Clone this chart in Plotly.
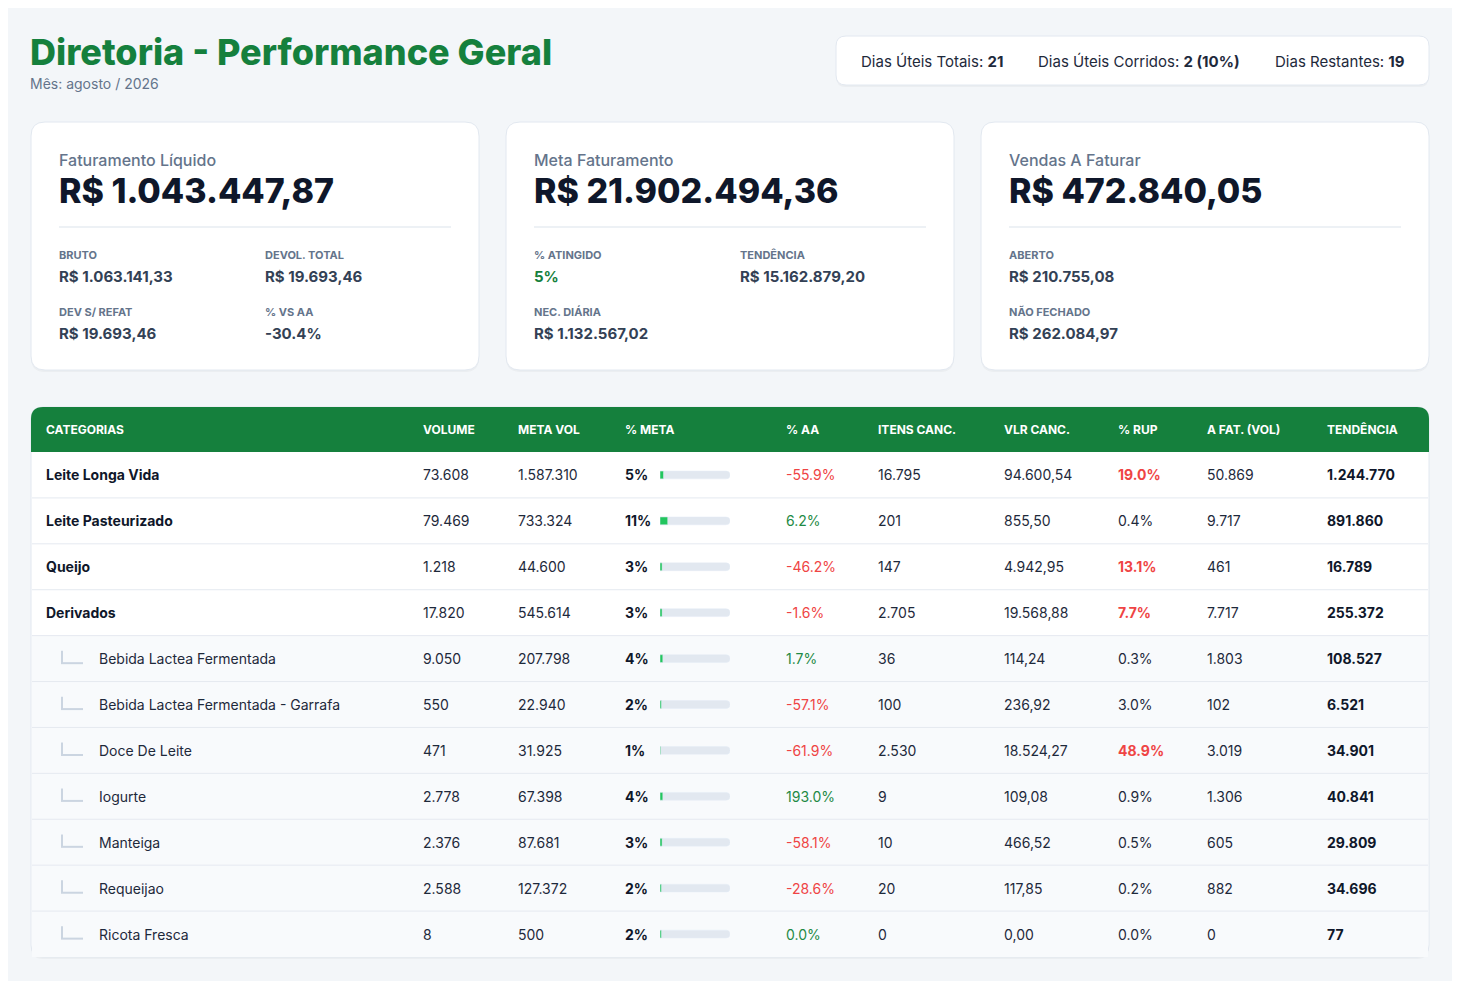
import plotly.graph_objects as go

# página de referência 1460x989; o body do html tem margem de 8px
W, H = 1460, 989
OFF = 8
FW, FH = W - 2 * OFF, H - 2 * OFF
BG = "#f3f6f9"
GREEN = "#15803d"
BAR_GREEN = "#22c55e"
RED = "#ef4444"
POS = "#1f8a45"
DARK = "#0f172a"
TEXT = "#1e293b"
MUTED = "#64748b"
BORDER = "#e2e8f0"
FONT = "Inter, 'Noto Sans', sans-serif"

# ---- cabeçalho ----
titulo = "Diretoria - Performance Geral"
subtitulo = "Mês: agosto / 2026"
dias_labels = ["Dias Úteis Totais:", "Dias Úteis Corridos:", "Dias Restantes:"]
dias_valores = ["21", "2 (10%)", "19"]

# ---- cards KPI ----
card_titulos = ["Faturamento Líquido", "Meta Faturamento", "Vendas A Faturar"]
card_valores = ["R$ 1.043.447,87", "R$ 21.902.494,36", "R$ 472.840,05"]
card1_labels = ["BRUTO", "DEVOL. TOTAL", "DEV S/ REFAT", "% VS AA"]
card1_valores = ["R$ 1.063.141,33", "R$ 19.693,46", "R$ 19.693,46", "-30.4%"]
card2_labels = ["% ATINGIDO", "TENDÊNCIA", "NEC. DIÁRIA"]
card2_valores = ["5%", "R$ 15.162.879,20", "R$ 1.132.567,02"]
card3_labels = ["ABERTO", "NÃO FECHADO"]
card3_valores = ["R$ 210.755,08", "R$ 262.084,97"]

# ---- tabela ----
colunas = ["CATEGORIAS", "VOLUME", "META VOL", "% META", "% AA",
           "ITENS CANC.", "VLR CANC.", "% RUP", "A FAT. (VOL)", "TENDÊNCIA"]
categorias = ["Leite Longa Vida", "Leite Pasteurizado", "Queijo", "Derivados",
              "Bebida Lactea Fermentada", "Bebida Lactea Fermentada - Garrafa",
              "Doce De Leite", "Iogurte", "Manteiga", "Requeijao", "Ricota Fresca"]
subcategoria = [False, False, False, False, True, True, True, True, True, True, True]
volume = [73608, 79469, 1218, 17820, 9050, 550, 471, 2778, 2376, 2588, 8]
meta_vol = [1587310, 733324, 44600, 545614, 207798, 22940, 31925, 67398, 87681, 127372, 500]
pct_meta = [5, 11, 3, 3, 4, 2, 1, 4, 3, 2, 2]
pct_aa = [-55.9, 6.2, -46.2, -1.6, 1.7, -57.1, -61.9, 193.0, -58.1, -28.6, 0.0]
itens_canc = [16795, 201, 147, 2705, 36, 100, 2530, 9, 10, 20, 0]
vlr_canc = [94600.54, 855.50, 4942.95, 19568.88, 114.24, 236.92, 18524.27,
            109.08, 466.52, 117.85, 0.00]
pct_rup = [19.0, 0.4, 13.1, 7.7, 0.3, 3.0, 48.9, 0.9, 0.5, 0.2, 0.0]
a_fat = [50869, 9717, 461, 7717, 1803, 102, 3019, 1306, 605, 882, 0]
tendencia = [1244770, 891860, 16789, 255372, 108527, 6521, 34901, 40841, 29809, 34696, 77]


def fmt_int(v):
    return f"{v:,}".replace(",", ".")


def fmt_dec(v):
    return f"{v:,.2f}".replace(",", "X").replace(".", ",").replace("X", ".")


def fmt_pct(v):
    return f"{v:.1f}%"


def rounded_path(x0, y0, x1, y1, r, top_only=False):
    rb = 0 if top_only else r
    return (f"M {x0 + r},{y0} L {x1 - r},{y0} Q {x1},{y0} {x1},{y0 + r} "
            f"L {x1},{y1 - rb} Q {x1},{y1} {x1 - rb},{y1} L {x0 + rb},{y1} "
            f"Q {x0},{y1} {x0},{y1 - rb} L {x0},{y0 + r} Q {x0},{y0} {x0 + r},{y0} Z")


def ydom(top, bottom, shift=0):
    return [(H - OFF - bottom - shift) / FH, (H - OFF - top - shift) / FH]


shapes = []
annotations = []


def card(x0, y0, x1, y1, r):
    shapes.append(dict(type="path", xref="x", yref="y", layer="below",
                       path=rounded_path(x0, y0 + 2, x1, y1 + 2, r),
                       fillcolor="rgba(15,23,42,0.035)", line=dict(width=0)))
    shapes.append(dict(type="path", xref="x", yref="y", layer="below",
                       path=rounded_path(x0, y0, x1, y1, r),
                       fillcolor="white", line=dict(color=BORDER, width=1)))


def text(x, y, s, size, color, weight=400, anchor="left"):
    # a anotação acrescenta ~2px de padding à esquerda
    annotations.append(dict(x=x - 2, y=y, xref="x", yref="y", text=s, showarrow=False,
                            xanchor=anchor, yanchor="middle",
                            font=dict(family=FONT, size=size, color=color, weight=weight)))


# cabeçalho
text(30, 52, titulo, 36, GREEN, 800)
text(30, 83, subtitulo, 14, MUTED)
card(836, 36, 1429, 85, 10)
for x, lab, val in zip([861, 1038, 1275], dias_labels, dias_valores):
    text(x, 61, f"{lab} <b>{val}</b>", 15, TEXT)

# cards
card_x = [31, 506, 981]
grids = [(card1_labels, card1_valores, 2), (card2_labels, card2_valores, 2),
         (card3_labels, card3_valores, 1)]
for cx, tit, val, (labs, vals, ncol) in zip(card_x, card_titulos, card_valores, grids):
    card(cx, 122, cx + 448, 370, 14)
    text(cx + 28, 160, tit, 16, MUTED, 500)
    text(cx + 28, 190, val, 34, DARK, 800)
    shapes.append(dict(type="line", xref="x", yref="y", layer="below",
                       x0=cx + 28, x1=cx + 420, y0=227, y1=227,
                       line=dict(color="#edf1f5", width=2)))
    for k, (lab, v) in enumerate(zip(labs, vals)):
        col, row = k % ncol, k // ncol
        lx = cx + 28 + col * 206
        text(lx, 255 + row * 57, lab, 11, MUTED, 700)
        cor = GREEN if lab == "% ATINGIDO" else "#334155"
        text(lx, 276 + row * 57, v, 15, cor, 700)

# tabela
card(31, 407, 1429, 957, 12)
shapes.append(dict(type="path", xref="x", yref="y", layer="below",
                   path=rounded_path(31, 407, 1429, 452, 12, top_only=True),
                   fillcolor=GREEN, line=dict(width=0)))
col_x = [46, 423, 518, 625, 786, 878, 1004, 1118, 1207, 1327]
for x, lab in zip(col_x, colunas):
    text(x, 429.5, lab, 12, "white", 700)

n = len(categorias)
for i, sub in enumerate(subcategoria):
    if sub:
        shapes.append(dict(type="rect", xref="x2", yref="y2", layer="below",
                           x0=32, x1=1428, y0=i - 0.5, y1=i + 0.5,
                           fillcolor="#f8fafc", line=dict(width=0)))
        shapes.append(dict(type="line", xref="x2", yref="y2", layer="below",
                           x0=62, x1=62, y0=i - 0.17, y1=i + 0.1,
                           line=dict(color="#cbd5e1", width=2)))
        shapes.append(dict(type="line", xref="x2", yref="y2", layer="below",
                           x0=61, x1=83, y0=i + 0.1, y1=i + 0.1,
                           line=dict(color="#cbd5e1", width=2)))
for i in range(n - 1):
    shapes.append(dict(type="line", xref="x2", yref="y2", layer="below",
                       x0=32, x1=1428, y0=i + 0.5, y1=i + 0.5,
                       line=dict(color="#e5e9f0", width=1)))

fig = go.Figure()
# traços vazios só para existirem os subplots xy e x2y2 (camadas das formas)
fig.add_trace(go.Scatter(x=[], y=[], xaxis="x", yaxis="y", hoverinfo="skip"))
fig.add_trace(go.Scatter(x=[], y=[], xaxis="x2", yaxis="y2", hoverinfo="skip"))


def coluna(xs, textos, cores):
    fig.add_trace(go.Scatter(
        x=xs, y=categorias, mode="text", text=textos, textposition="middle right",
        textfont=dict(family=FONT, size=14, color=cores),
        xaxis="x2", yaxis="y4", cliponaxis=False, hoverinfo="skip"))


nomes = [s if sub else f"<b>{s}</b>" for s, sub in zip(categorias, subcategoria)]
coluna([99 if sub else 46 for sub in subcategoria], nomes,
       [TEXT if sub else DARK for sub in subcategoria])
coluna([col_x[1]] * n, [fmt_int(v) for v in volume], TEXT)
coluna([col_x[2]] * n, [fmt_int(v) for v in meta_vol], TEXT)
coluna([col_x[3]] * n, [f"<b>{v}%</b>" for v in pct_meta], DARK)
coluna([col_x[4]] * n, [fmt_pct(v) for v in pct_aa],
       [RED if v < 0 else POS for v in pct_aa])
coluna([col_x[5]] * n, [fmt_int(v) for v in itens_canc], TEXT)
coluna([col_x[6]] * n, [fmt_dec(v) for v in vlr_canc], TEXT)
coluna([col_x[7]] * n, [f"<b>{fmt_pct(v)}</b>" if v > 5 else fmt_pct(v) for v in pct_rup],
       [RED if v > 5 else TEXT for v in pct_rup])
coluna([col_x[8]] * n, [fmt_int(v) for v in a_fat], TEXT)
coluna([col_x[9]] * n, [f"<b>{fmt_int(v)}</b>" for v in tendencia], DARK)

# barras de progresso da meta
fig.add_trace(go.Bar(x=[100] * n, y=categorias, orientation="h", width=0.17,
                     marker=dict(color=BORDER, cornerradius=4),
                     xaxis="x3", yaxis="y2", hoverinfo="skip"))
fig.add_trace(go.Bar(x=pct_meta, y=categorias, orientation="h", width=0.17,
                     marker=dict(color=BAR_GREEN, cornerradius=4),
                     xaxis="x3", yaxis="y2", hoverinfo="skip"))

cat_axis = dict(type="category", categoryorder="array", categoryarray=categorias,
                range=[n - 0.5, -0.5], visible=False, fixedrange=True)

fig.update_layout(
    width=FW, height=FH, margin=dict(l=0, r=0, t=0, b=0),
    paper_bgcolor=BG, plot_bgcolor="rgba(0,0,0,0)",
    showlegend=False, barmode="overlay",
    font=dict(family=FONT, color=TEXT),
    shapes=shapes, annotations=annotations,
    xaxis=dict(range=[OFF, W - OFF], domain=[0, 1], visible=False, fixedrange=True),
    yaxis=dict(range=[H - OFF, OFF], domain=[0, 1], visible=False, fixedrange=True),
    xaxis2=dict(range=[OFF, W - OFF], domain=[0, 1], anchor="y2",
                visible=False, fixedrange=True),
    yaxis2=dict(domain=ydom(452, 957), anchor="x2", **cat_axis),
    yaxis4=dict(domain=ydom(452, 957, shift=2), anchor="x2", **cat_axis),
    xaxis3=dict(domain=[(660 - OFF) / FW, (730 - OFF) / FW], range=[0, 100],
                anchor="y2", visible=False, fixedrange=True),
)

fig.write_html("out.html")
